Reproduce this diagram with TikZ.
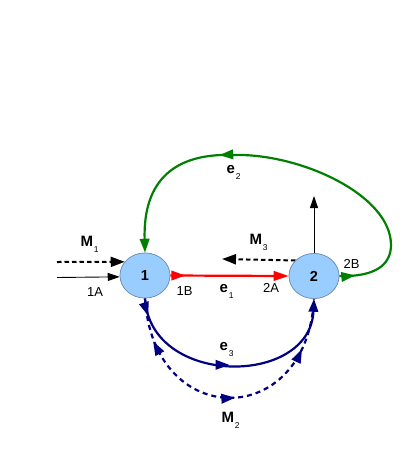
\documentclass[tikz,border=0pt]{standalone}
\usepackage{fontspec}
\setmainfont{Liberation Sans}
\usetikzlibrary{arrows.meta,shapes.geometric,decorations.markings}
\definecolor{nodefill}{RGB}{153,204,255}
\definecolor{nodeline}{RGB}{110,140,180}
\definecolor{eRed}{RGB}{255,0,0}
\definecolor{eGreen}{RGB}{0,128,0}
\definecolor{eBlue}{RGB}{0,0,128}
\newcommand\sublab[2]{{\fontsize{15}{15}\selectfont\bfseries #1}\hspace{0.8pt}\raisebox{-6pt}{\fontsize{8.5}{8.5}\selectfont #2}}
\tikzset{
  vertex/.style={ellipse,draw=nodeline,line width=0.6pt,fill=nodefill,minimum width=50pt,minimum height=45pt,inner sep=0pt,font=\fontsize{14.5}{14.5}\selectfont\bfseries},
  thick edge/.style={line width=2.2pt},
  port/.style={font=\fontsize{13}{13}\selectfont,inner sep=0pt},
  sublabel/.style={inner sep=0pt,anchor=base west},
  blackdash/.style={line width=2pt,dash pattern=on 4.5pt off 3pt,-{Triangle[length=14pt,width=10pt]}},
  blackthin/.style={line width=0.9pt,-{Triangle[length=12pt,width=8pt]}},
}
\begin{document}
\begin{tikzpicture}[x=1pt,y=-1pt,>={Triangle[length=14pt,width=9.5pt]}]
\useasboundingbox (0,0) rectangle (415,472);
\fill[white] (0,0) rectangle (415,472);

% connectors (drawn first, nodes on top)
\node[vertex] (n1) at (145,275.5) {};
\node[vertex] (n2) at (314,276) {};

\coordinate (inA) at (57,277.5);
\coordinate (inM1) at (57,262);
\coordinate (outM3) at (222,259);
\coordinate (outUp) at (314,196);

% M1 dashed and 1A solid
\draw[blackdash] (inM1) -- (n1.146);
\draw[blackthin] (inA) -- (n1.183);
% M3 dashed
\draw[blackdash] (n2.140) -- (outM3);
% vertical arrow from node 2
\draw[blackthin] (n2.north) -- (outUp);

% red e1
\draw[eRed,thick edge,-{Triangle[length=15pt,width=9.5pt]},
  postaction={decorate,decoration={markings,mark=at position 15pt with {\arrow[eRed]{>}}}}]
  (n1.east) -- (n2.west);

% green e2
\draw[eGreen,thick edge,-{Triangle[length=14pt,width=9.5pt]},
  postaction={decorate,decoration={markings,
    mark=at position 16pt with {\arrow[eGreen]{>}},
    mark=at position -140pt with {\arrow[eGreen]{>}}}}]
  (n2.east) .. controls (375,277) and (391,265) .. (391,245)
  .. controls (391,195) and (300,153) .. (233,155)
  .. controls (175,153) and (143,180) .. (n1.north);

% blue e3
\draw[eBlue,thick edge,-{Triangle[length=13pt,width=9.5pt]},
  postaction={decorate,decoration={markings,
    mark=at position 18pt with {\arrow[eBlue]{>}},
    mark=at position 0.5 with {\arrow[eBlue]{>}}}}]
  (n1.south) .. controls (150,387) and (310,387) .. (n2.south);

% blue dashed M2
\draw[eBlue,thick edge,dash pattern=on 5pt off 4pt,
  postaction={decorate,decoration={markings,
    mark=at position 0.2 with {\arrow[eBlue]{<}},
    mark=at position 0.52 with {\arrow[eBlue]{>}},
    mark=at position 0.82 with {\arrow[eBlue]{>}}}}]
  (n1.south) .. controls (153,431) and (307,431) .. (n2.south);

% redraw nodes on top
\node[vertex] (v1) at (n1) {1};
\node[vertex] (v2) at (n2) {2};

% port labels
\node[port] (l1A) at (95,292) {1A};
\node[port] (l1B) at (184.5,291.5) {1B};
\node[port] (l2A) at (271,288) {2A};
\node[port] (l2B) at (351.5,263.5) {2B};

% edge / message labels
\node[sublabel] (lM1) at (80.5,246) {\sublab{M}{1}};
\node[sublabel] (lM3) at (249.5,244) {\sublab{M}{3}};
\node[sublabel] (le2) at (226.5,173) {\sublab{e}{2}};
\node[sublabel] (le1) at (219.5,292) {\sublab{e}{1}};
\node[sublabel] (le3) at (219.5,350) {\sublab{e}{3}};
\node[sublabel] (lM2) at (221.5,422) {\sublab{M}{2}};
\end{tikzpicture}
\end{document}
